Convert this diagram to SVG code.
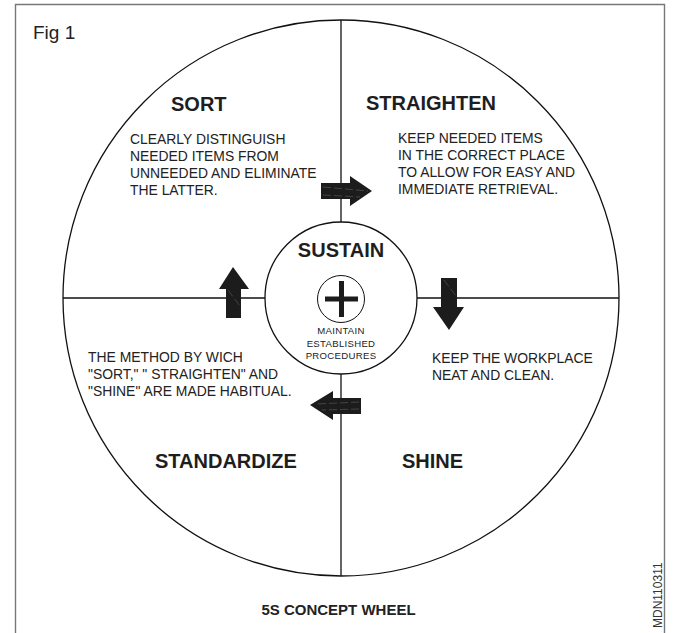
<svg xmlns="http://www.w3.org/2000/svg" width="687" height="633" viewBox="0 0 687 633">
  <style>
    .frame { fill: none; stroke: #777; stroke-width: 1.4; }
    .ring { fill: none; stroke: #111; stroke-width: 1.3; }
    .spoke { stroke: #111; stroke-width: 1.3; }
    .head { font-family: "Liberation Sans", Arial, sans-serif; font-weight: bold; font-size: 20px; fill: #1e1e1e; }
    .body { font-family: "Liberation Sans", Arial, sans-serif; font-size: 13.9px; fill: #222; }
    .small { font-family: "Liberation Sans", Arial, sans-serif; font-size: 9.6px; fill: #222; text-anchor: middle; letter-spacing: 0.3px; }
    .arrow { fill: #1c1c1c; }
    .streak { stroke: #6a6a6a; stroke-width: 0.5; stroke-dasharray: 8 3; fill: none; }
  </style>

  <rect width="687" height="633" fill="#ffffff"/>

  <!-- figure frame, open at the bottom -->
  <path class="frame" d="M15.5 633 V4.5 H664.5 V633"/>
  <text x="33" y="39" font-family="'Liberation Sans', Arial, sans-serif" font-size="19" fill="#222">Fig 1</text>

  <!-- wheel -->
  <g id="wheel">
    <circle class="ring" cx="341" cy="298" r="278"/>
  </g>

  <g id="connectors">
    <line class="spoke" x1="341" y1="20" x2="341" y2="222"/>
    <line class="spoke" x1="341" y1="374" x2="341" y2="576"/>
    <line class="spoke" x1="63" y1="298" x2="265" y2="298"/>
    <line class="spoke" x1="417" y1="298" x2="619" y2="298"/>

    <!-- sort -> straighten -->
    <g id="arrow-right">
      <path class="arrow" d="M321 183 H350 V176 L372 191 L350 206 V199 H321 Z"/>
      <path class="streak" d="M323 187 L368 191 M323 195 L360 197"/>
    </g>
    <!-- straighten -> shine -->
    <g id="arrow-down">
      <path class="arrow" d="M441 278 H457 V307 H464 L449 330 L433 307 H441 Z"/>
      <path class="streak" d="M444 280 L456 296" stroke-dasharray="none"/>
    </g>
    <!-- shine -> standardize -->
    <g id="arrow-left">
      <path class="arrow" d="M361 398 H333 V391 L310 405 L333 420 V414 H361 Z"/>
      <path class="streak" d="M359 402 L316 404 M359 409 L322 410"/>
    </g>
    <!-- standardize -> sort -->
    <g id="arrow-up">
      <path class="arrow" d="M226 318 H241 V289 H249 L233 267 L219 289 H226 Z"/>
      <path class="streak" d="M228 290 L240 306" stroke-dasharray="none"/>
    </g>
  </g>

  <g id="sort">
    <text class="head" x="171" y="111">SORT</text>
    <text class="body" x="130" y="144">CLEARLY DISTINGUISH</text>
    <text class="body" x="130" y="161">NEEDED ITEMS FROM</text>
    <text class="body" x="130" y="178">UNNEEDED AND ELIMINATE</text>
    <text class="body" x="130" y="194.5">THE LATTER.</text>
  </g>

  <g id="straighten">
    <text class="head" x="366" y="110">STRAIGHTEN</text>
    <text class="body" x="398" y="143">KEEP NEEDED ITEMS</text>
    <text class="body" x="398" y="160">IN THE CORRECT PLACE</text>
    <text class="body" x="398" y="177">TO ALLOW FOR EASY AND</text>
    <text class="body" x="398" y="193.5">IMMEDIATE RETRIEVAL.</text>
  </g>

  <g id="shine">
    <text class="body" x="432" y="363">KEEP THE WORKPLACE</text>
    <text class="body" x="432" y="380">NEAT AND CLEAN.</text>
    <text class="head" x="402" y="468">SHINE</text>
  </g>

  <g id="standardize">
    <text class="body" x="88" y="362">THE METHOD BY WICH</text>
    <text class="body" x="88" y="379">"SORT," " STRAIGHTEN" AND</text>
    <text class="body" x="88" y="396">"SHINE" ARE MADE HABITUAL.</text>
    <text class="head" x="155" y="468">STANDARDIZE</text>
  </g>

  <g id="sustain">
    <circle class="ring" cx="341" cy="298" r="76" fill="#fff"/>
    <text class="head" x="341" y="257" text-anchor="middle">SUSTAIN</text>
    <circle cx="341" cy="299" r="23.5" fill="none" stroke="#111" stroke-width="1"/>
    <rect x="325" y="296.5" width="33" height="5" fill="#1c1c1c"/>
    <rect x="339" y="281" width="5" height="36" fill="#1c1c1c"/>
    <text class="small" x="341" y="334">MAINTAIN</text>
    <text class="small" x="341" y="347">ESTABLISHED</text>
    <text class="small" x="341" y="359">PROCEDURES</text>
  </g>

  <text x="338.5" y="615" text-anchor="middle" font-family="'Liberation Sans', Arial, sans-serif" font-weight="bold" font-size="15" fill="#222">5S CONCEPT WHEEL</text>
  <text transform="translate(662 628) rotate(-90)" font-family="'Liberation Sans', Arial, sans-serif" font-size="12" fill="#333">MDN110311</text>
</svg>
